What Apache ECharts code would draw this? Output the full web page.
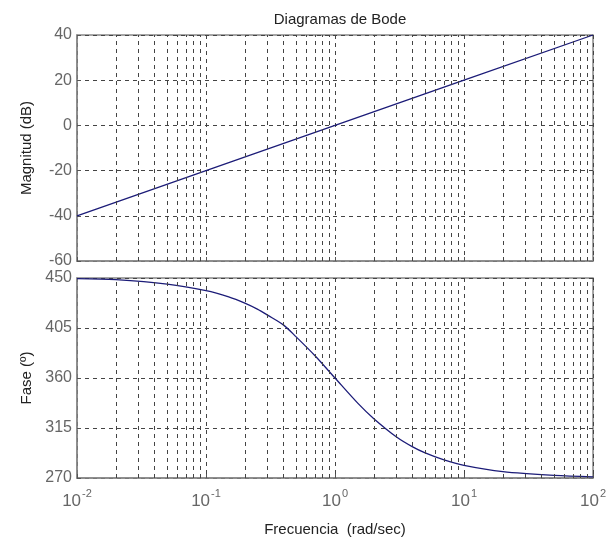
<!DOCTYPE html>
<html>
<head>
<meta charset="utf-8">
<script src="https://cdn.jsdelivr.net/npm/echarts@6/dist/echarts.min.js"></script>
<style>
  html, body { margin: 0; padding: 0; background: #fff; }
  #main { width: 611px; height: 539px; }
</style>
</head>
<body>
<div id="main"></div>
<script>
// frecuencias (rad/s) y valores
const magFreq = [0.01, 0.1, 1, 10, 100];
const magDb = [-40, -20, 0, 20, 40];

const phaseFreq = [0.01, 0.02, 0.05, 0.1, 0.15, 0.2, 0.25, 0.3, 0.4, 0.5, 0.7, 1, 1.5, 2, 3, 4, 5, 7, 10, 20, 50, 100];
const phaseDeg = [449.5, 448.5, 444.5, 438.6, 433, 427.4, 422, 416.6, 407.6, 397, 380, 360, 337.4, 323.4, 306.9, 298, 292.6, 286.3, 281.4, 275.7, 272.3, 271.1];

// lineas de rejilla menores (2..9 por decada)
const minorFreq = [];
[0.01, 0.1, 1, 10].forEach(function (d) {
  for (let k = 2; k <= 9; k++) minorFreq.push(+(d * k).toPrecision(3));
});

const magTicks = { min: -60, max: 40, step: 20 };
const phaseTicks = { min: 270, max: 450, step: 45 };

const chart = echarts.init(document.getElementById('main'));

const gridDash = { color: '#444', type: [4, 4], width: 1 };
const labelColor = '#666';
const font = 'Liberation Sans, Arial, sans-serif';

function xAxisCfg(idx, showLabel) {
  return {
    type: 'log',
    logBase: 10,
    gridIndex: idx,
    min: 0.01,
    max: 100,
    axisLine: { show: true, onZero: false, lineStyle: { color: '#888', width: 1.5 } },
    axisTick: { show: true, inside: true, length: 4, lineStyle: { color: '#555' } },
    splitLine: { show: true, lineStyle: gridDash },
    axisLabel: {
      show: showLabel,
      margin: 10,
      formatter: function (v) {
        const e = Math.round(Math.log10(v));
        return '{b|10}{e|' + e + '}';
      },
      rich: {
        b: { fontSize: 17, color: labelColor, fontFamily: font, verticalAlign: 'bottom' },
        e: { fontSize: 11, color: labelColor, fontFamily: font, verticalAlign: 'bottom', padding: [0, 0, 11, 1] }
      }
    }
  };
}

function yAxisCfg(idx, t, name) {
  return {
    type: 'value',
    gridIndex: idx,
    min: t.min,
    max: t.max,
    interval: t.step,
    name: name,
    nameLocation: 'middle',
    nameGap: 43,
    nameTextStyle: { color: '#222', fontSize: 15, fontFamily: font },
    axisLine: { show: true, lineStyle: { color: '#888', width: 1.5 } },
    axisTick: { show: true, inside: true, length: 4, lineStyle: { color: '#555' } },
    splitLine: { show: true, lineStyle: gridDash },
    axisLabel: { color: labelColor, fontSize: 16, fontFamily: font, margin: 5 }
  };
}

function minorLines() {
  return {
    silent: true,
    symbol: 'none',
    label: { show: false },
    lineStyle: gridDash,
    animation: false,
    data: minorFreq.map(function (f) { return { xAxis: f }; })
  };
}

const option = {
  animation: false,
  title: {
    text: 'Diagramas de Bode',
    left: 335,
    textAlign: 'center',
    top: 7,
    textStyle: { fontSize: 15, fontWeight: 'normal', color: '#222', fontFamily: font }
  },
  grid: [
    { left: 77, top: 35, width: 516, height: 226, show: true, borderColor: '#888', borderWidth: 1.5 },
    { left: 77, top: 278, width: 516, height: 200, show: true, borderColor: '#888', borderWidth: 1.5 }
  ],
  xAxis: [
    xAxisCfg(0, false),
    Object.assign(xAxisCfg(1, true), {
      name: 'Frecuencia  (rad/sec)',
      nameLocation: 'middle',
      nameGap: 44,
      nameTextStyle: { color: '#222', fontSize: 15, fontFamily: font }
    })
  ],
  yAxis: [
    yAxisCfg(0, magTicks, 'Magnitud (dB)'),
    yAxisCfg(1, phaseTicks, 'Fase (º)')
  ],
  series: [
    {
      type: 'line',
      xAxisIndex: 0,
      yAxisIndex: 0,
      data: magFreq.map(function (f, i) { return [f, magDb[i]]; }),
      showSymbol: false,
      lineStyle: { color: '#1c1c78', width: 1.3 },
      markLine: minorLines()
    },
    {
      type: 'line',
      xAxisIndex: 1,
      yAxisIndex: 1,
      smooth: 0.3,
      data: phaseFreq.map(function (f, i) { return [f, phaseDeg[i]]; }),
      showSymbol: false,
      lineStyle: { color: '#1c1c78', width: 1.3 },
      markLine: minorLines()
    }
  ]
};

chart.setOption(option);
</script>
</body>
</html>
